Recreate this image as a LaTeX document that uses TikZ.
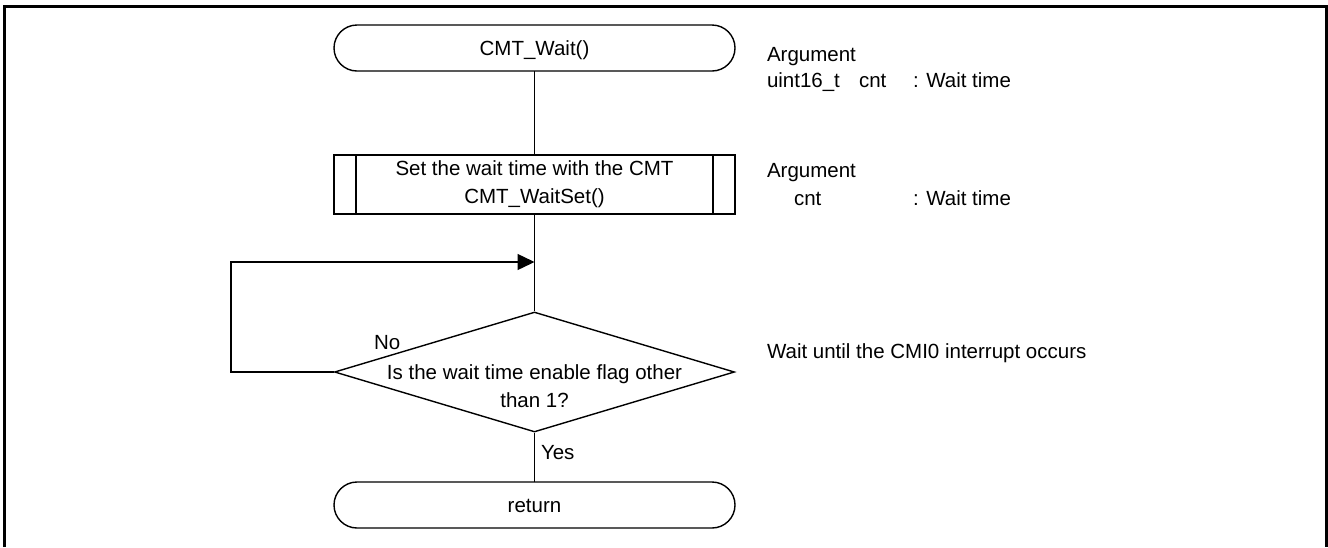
\documentclass[tikz,border=0pt]{standalone}
\usepackage{fontspec}
\setmainfont{Liberation Sans}
\usetikzlibrary{shapes.geometric,arrows.meta}
\tikzset{
  txt/.style={font=\fontsize{10.25pt}{14pt}\selectfont, inner sep=0pt, outer sep=0pt},
  terminal/.style={txt, draw, line width=0.7pt, rectangle, rounded corners=11.5pt,
    minimum width=200.5pt, minimum height=23pt, text height=7pt, text depth=0pt},
  subbox/.style={txt, draw, line width=0.7pt, rectangle, align=center,
    minimum width=200.5pt, minimum height=29.5pt},
  decision/.style={draw, line width=0.7pt, diamond, inner sep=0pt,
    minimum width=200pt, minimum height=60pt},
  conn/.style={line width=0.7pt},
  loopline/.style={line width=0.7pt, -{Triangle[length=8.5pt,width=8pt]}},
  frameline/.style={line width=1.5pt},
}
\begin{document}
\begin{tikzpicture}[x=0.5pt, y=-0.5pt]
\useasboundingbox (0,0) rectangle (1328,547);
% outer frame (open at the bottom)
\draw[frameline] (4.5,547) -- (4.5,6) -- (1326.5,6) -- (1326.5,547);

% flow nodes
\node[terminal] (start) at (534.5,48) {CMT\_Wait()};
\node[subbox] (sub) at (534.5,184.5) {Set the wait time with the CMT\\CMT\_WaitSet()};
\draw[conn] ([xshift=11pt]sub.north west) -- ([xshift=11pt]sub.south west);
\draw[conn] ([xshift=-11pt]sub.north east) -- ([xshift=-11pt]sub.south east);
\node[decision] (d) at (534.5,372) {};
\node[txt, align=center, anchor=north] (dtext) at (534.5,365)
  {Is the wait time enable flag other\\than 1?};
\node[terminal] (ret) at (534.5,505) {return};

% connectors
\draw[conn] (start.south) -- (sub.north);
\coordinate (join) at (534.5,262);
\draw[conn] (sub.south) -- (d.north);
\draw[loopline] (d.west) -- ++(-103,0) |- (join);
\draw[conn] (d.south) -- (ret.north);

% branch labels
\node[txt, anchor=base west] (no) at (374,349) {No};
\node[txt, anchor=base west] (yes) at (541,459) {Yes};

% comments on the right
\node[txt, anchor=base west] (arg1) at (767,61) {Argument};
\node[txt, anchor=base west] (arg1a) at (767,87) {uint16\_t};
\node[txt, anchor=base west] (arg1b) at (859,87) {cnt};
\node[txt, anchor=base west] (arg1c) at (913,87) {: Wait time};

\node[txt, anchor=base west] (arg2) at (767,177) {Argument};
\node[txt, anchor=base west] (arg2b) at (794,205) {cnt};
\node[txt, anchor=base west] (arg2c) at (913,205) {: Wait time};

\node[txt, anchor=base west] (waitc) at (767,358) {Wait until the CMI0 interrupt occurs};
\end{tikzpicture}
\end{document}
